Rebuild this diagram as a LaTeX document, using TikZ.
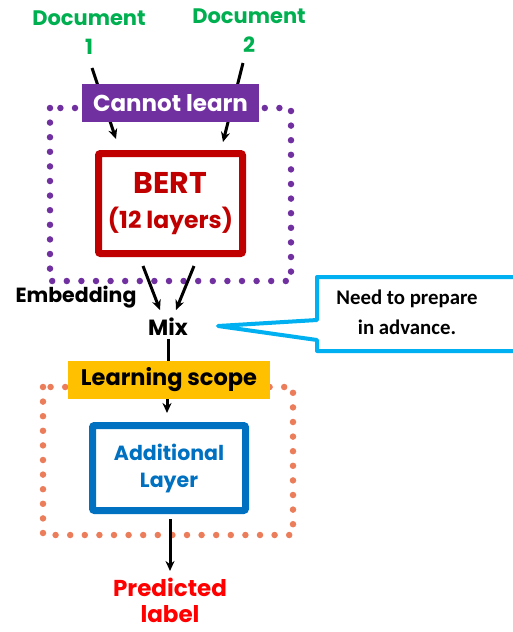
\documentclass[tikz,border=0pt]{standalone}
\usepackage{fontspec}
\setmainfont{Poppins}
\newfontfamily\calib{Carlito}
\usetikzlibrary{arrows.meta}
\definecolor{docgreen}{RGB}{0,176,80}
\definecolor{cpurple}{RGB}{112,48,160}
\definecolor{bertred}{RGB}{192,0,0}
\definecolor{lyellow}{RGB}{255,192,0}
\definecolor{dorange}{RGB}{235,125,90}
\definecolor{addblue}{RGB}{0,112,192}
\definecolor{callblue}{RGB}{0,176,240}
\definecolor{predred}{RGB}{255,0,0}
\tikzset{
  arr/.style={-{Stealth[length=10pt,width=9pt]}, line width=3pt, black},
  dotline/.style={line width=6.5pt, line cap=round, dash pattern=on 0pt off 14.6pt},
  lbl/.style={font=\bfseries\fontsize{21}{24}\selectfont, inner sep=0pt, align=center},
}
\begin{document}
\begin{tikzpicture}[x=1pt,y=-1pt]
\useasboundingbox (0,0) rectangle (513,632);
% dotted regions
\draw[dotline, cpurple] (50,108) rectangle (291,281);
\draw[dotline, dorange] (43,387) rectangle (293,535);
% documents
\node[lbl, text=docgreen] (d1) at (89,33) {Document\\[5pt]1};
\node[lbl, text=docgreen] (d2) at (249,31) {Document\\[5pt]2};
% BERT
\node[draw=bertred, line width=7pt, rounded corners=2pt, minimum width=144pt, minimum height=100pt,
      inner sep=0pt, text=bertred, align=center] (bert) at (170.5,203.5)
      {{\bfseries\fontsize{30}{32}\selectfont BERT}\\[12pt]{\bfseries\fontsize{23.5}{26}\selectfont (12 layers)}};
\coordinate (a1s) at (92,68);
\coordinate (a2s) at (243,63);
\draw[arr] (a1s) -- (116,139);
\draw[arr] (a2s) -- (223,142);
% cannot learn
\node[fill=cpurple, minimum width=177pt, minimum height=38pt, inner sep=0pt,
      text=white, font=\bfseries\fontsize{23}{26}\selectfont] (cl) at (170.5,103) {Cannot learn};
% mix
\node[font=\bfseries\fontsize{22}{26}\selectfont, inner sep=2pt] (mix) at (168,327) {Mix};
\node[font=\bfseries\fontsize{20.5}{24}\selectfont, inner sep=0pt] (emb) at (76,297) {Embedding};
\draw[arr] (bert.south -| 143,0) ++(0,9) -- (160,310);
\draw[arr] (bert.south -| 194,0) ++(0,9) -- (176,310);
% learning scope
\node[fill=lyellow, minimum width=202pt, minimum height=38pt, inner sep=0pt,
      font=\bfseries\fontsize{22.5}{26}\selectfont] (ls) at (169,380) {Learning scope};
\draw[line width=3pt] (mix.south) ++(0,1) -- (ls.north -| mix.south);
% additional layer
\node[draw=addblue, line width=7pt, rounded corners=2pt, minimum width=153pt, minimum height=85pt,
      inner sep=0pt, text=addblue, align=center, font=\bfseries\fontsize{20.5}{27}\selectfont] (add) at (169,468)
      {Additional\\Layer};
\draw[arr] (ls.south -| 167,0) -- (167,413);
% predicted
\node[lbl, text=predred, font=\bfseries\fontsize{23}{26}\selectfont] (pred) at (170,600) {Predicted\\label};
\draw[arr] (add.south -| 170,0) ++(0,5) -- (170,571);
% callout
\coordinate (tip) at (218,326);
\draw[callblue, line width=4pt, fill=white, line join=round]
  (tip) -- (317,320) -- (317,277) -- (530,277) -- (530,351) -- (317,351) -- (317,340) -- cycle;
\node[font=\calib\bfseries\fontsize{20.8}{30}\selectfont, align=center, inner sep=0pt] (call) at (407,312)
  {Need to prepare\\in advance.};
\end{tikzpicture}
\end{document}
